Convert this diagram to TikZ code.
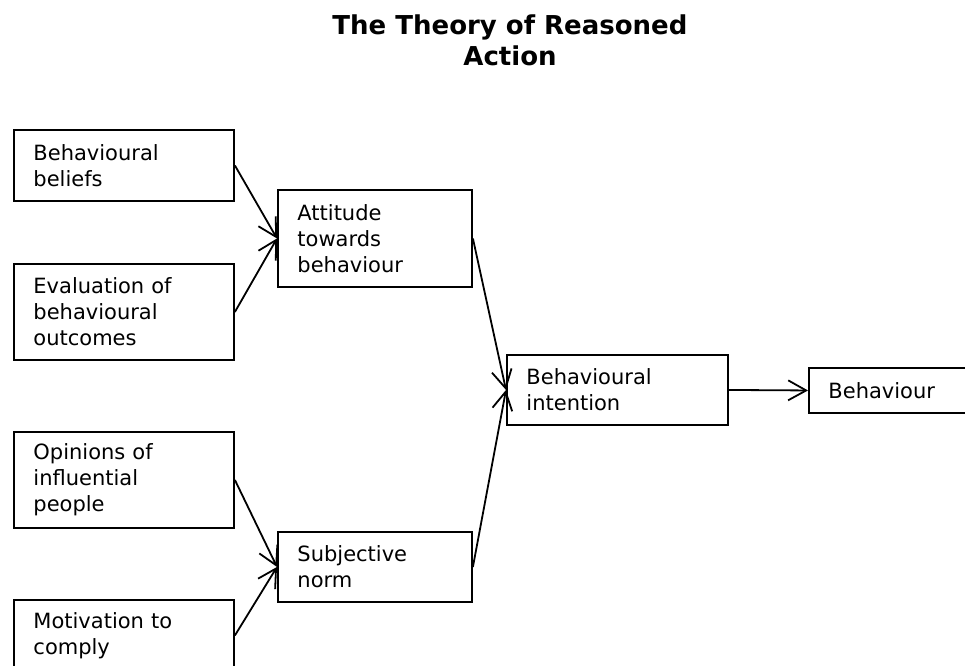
\documentclass[tikz,border=0pt]{standalone}
\usepackage{fontspec}
\setmainfont{DejaVu Sans}
\usetikzlibrary{arrows.meta}
\begin{document}
\begin{tikzpicture}[x=1pt,y=1pt,
  box/.style={draw, line width=1.9pt, anchor=north west, align=left,
    inner xsep=19.5pt, inner ysep=0pt, font=\fontsize{21}{26}\selectfont},
  conn/.style={line width=1.8pt,
    -{Straight Barb[length=18pt,width=20pt,line width=1.8pt]}},
  ttl/.style={font=\fontsize{26}{31}\selectfont\bfseries, align=center,
    anchor=north, inner sep=0pt}]
\useasboundingbox (0,0) rectangle (965,-665);
\node[ttl] (title) at (510,-15) {The Theory of Reasoned\\Action};
\node[box, text width=181pt, minimum height=71pt] (bb) at (13,-129) {Behavioural\\beliefs};
\node[box, text width=181pt, minimum height=96pt] (eo) at (13,-263) {Evaluation of\\behavioural\\outcomes};
\node[box, text width=155pt, minimum height=97pt] (att) at (277,-189) {Attitude\\towards\\behaviour};
\node[box, text width=181pt, minimum height=96pt] (op) at (13,-431) {Opinions of\\influential\\people};
\node[box, text width=155pt, minimum height=70pt] (sn) at (277,-531) {Subjective\\norm};
\node[box, text width=181pt, minimum height=71pt] (mot) at (13,-599) {Motivation to\\comply};
\node[box, text width=182pt, minimum height=70pt] (bi) at (506,-354) {Behavioural\\intention};
\node[box, text width=160pt, minimum height=45pt] (beh) at (808,-367) {Behaviour};
\draw[conn] (bb.east) -- (att.west);
\draw[conn] (eo.east) -- (att.west);
\draw[conn] (op.east) -- (sn.west);
\draw[conn] (mot.east) -- (sn.west);
\draw[conn] (att.east) -- (bi.west);
\draw[conn] (sn.east) -- (bi.west);
\draw[conn] (bi.east) -- (beh.west);
\end{tikzpicture}
\end{document}
